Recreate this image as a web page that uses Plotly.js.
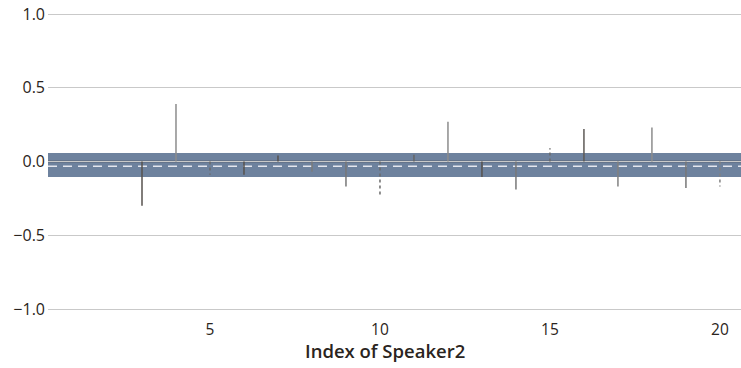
<!DOCTYPE html>
<html>
<head>
<meta charset="utf-8">
<script src="https://cdn.plot.ly/plotly-3.0.1.min.js"></script>
<style>html,body{margin:0;padding:0;background:#fff;}#chart{width:741px;height:368px;}</style>
</head>
<body>
<div id="chart"></div>
<script>
// Data
const speakerIndex = [1,2,3,4,5,6,7,8,9,10,11,12,13,14,15,16,17,18,19,20];
const values =       [0,0,-0.30,0.39,-0.09,-0.09,0.04,-0.07,-0.17,-0.24,0.045,0.27,-0.105,-0.19,0.09,0.22,-0.17,0.23,-0.18,-0.17];
const dashed =       [false,false,false,false,true,false,false,false,false,true,false,false,false,false,true,false,false,false,false,true];
const shade =        ['#555','#555','#57524e','#8c8c8c','#6a6a6a','#57524e','#57524e','#7a7a7a','#777','#6a6a6a','#666','#8c8c8c','#57524e','#777','#6a6a6a','#5e5a56','#808080','#8c8c8c','#777','#808080'];
const bandLow = -0.105;
const bandHigh = 0.058;
const meanLine = -0.033;
const yTicks = [-1, -0.5, 0, 0.5, 1];
const yTickText = ['\u22121.0', '\u22120.5', '0.0', '0.5', '1.0'];
const xTicks = [5, 10, 15, 20];
const xTitle = 'Index of Speaker2';

const traces = speakerIndex.map((xi, i) => ({
  type: 'scatter', mode: 'lines',
  x: [xi, xi], y: [0, values[i]],
  line: {color: shade[i], width: 1.5, dash: dashed[i] ? '3px,3px' : 'solid'},
  hoverinfo: 'skip', showlegend: false
}));

const font = "'Open Sans', 'Noto Sans', sans-serif";
const layout = {
  width: 741, height: 368,
  margin: {l: 48, r: 0, t: 5, b: 50},
  paper_bgcolor: '#fff', plot_bgcolor: '#fff',
  showlegend: false,
  font: {family: font, color: '#2a2420', size: 15},
  xaxis: {
    range: [0.235, 20.62], tickvals: xTicks, ticktext: xTicks.map(String),
    showgrid: false, zeroline: false, showline: false, ticks: '',
    tickfont: {size: 15.5, color: '#2a2420'}
  },
  yaxis: {
    range: [-1.061, 1.061], tickvals: yTicks, ticktext: yTickText,
    showgrid: true, gridcolor: '#c9c9c9', gridwidth: 1,
    zeroline: false, showline: false, ticks: '',
    ticklabelstandoff: 2,
    tickfont: {size: 16, color: '#2a2420'}
  },
  annotations: [
    {text: xTitle, xref: 'paper', yref: 'paper', x: 0.487, y: -0.105,
     xanchor: 'center', yanchor: 'middle', showarrow: false,
     font: {size: 18.5, color: '#2a2420', family: font, weight: 600}}
  ],
  shapes: [
    {type: 'rect', xref: 'paper', x0: 0, x1: 1, yref: 'y', y0: bandLow, y1: bandHigh,
     fillcolor: '#6e829e', line: {width: 0}, layer: 'between'},
    {type: 'line', xref: 'paper', x0: 0, x1: 1, yref: 'y', y0: 0, y1: 0,
     line: {color: '#4d4d55', width: 1.5}, layer: 'between'},
    {type: 'line', xref: 'paper', x0: 0, x1: 1, yref: 'y', y0: meanLine, y1: meanLine,
     line: {color: '#e4e6ee', width: 1.5, dash: '9px,6px'}, layer: 'between'}
  ]
};

Plotly.newPlot('chart', traces, layout, {displayModeBar: false, staticPlot: true});
</script>
</body>
</html>
